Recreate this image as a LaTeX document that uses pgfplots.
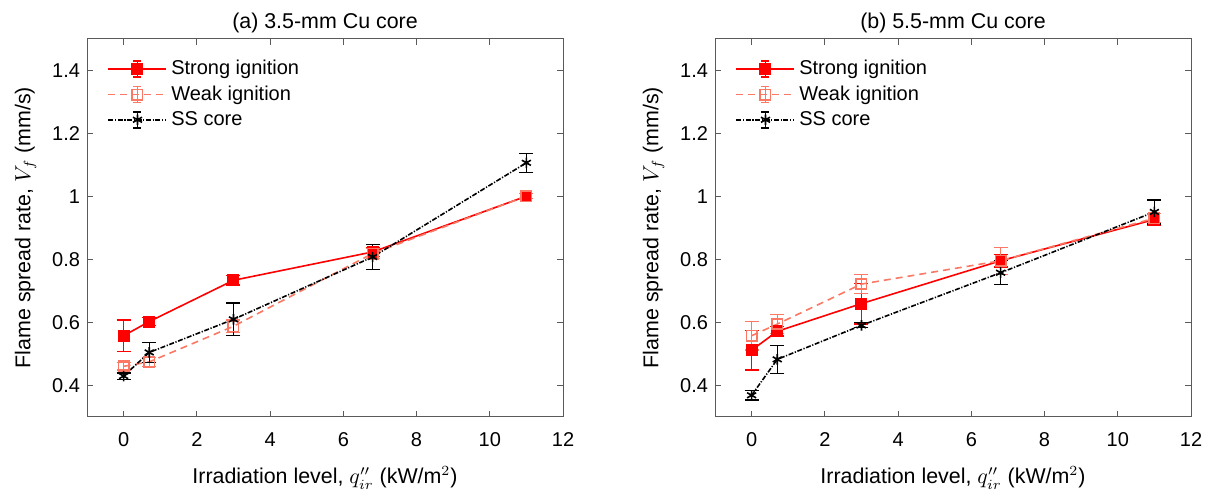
\documentclass[border=0pt]{standalone}
\usepackage{fontspec}
\setmainfont{Liberation Sans}
\usepackage{pgfplots}
\pgfplotsset{compat=1.18}
\definecolor{strongc}{RGB}{255,0,0}
\definecolor{weakc}{RGB}{250,120,100}
\definecolor{framec}{RGB}{90,90,90}
\pgfplotsset{
 myaxis/.style={
  scale only axis, width=238pt, height=189pt,
  xmin=-1, xmax=12, ymin=0.3, ymax=1.5,
  xtick={0,2,4,6,8,10,12}, ytick={0.4,0.6,0.8,1,1.2,1.4},
  yticklabels={0.4,0.6,0.8,1,1.2,1.4},
  tick align=inside,
  ticklabel style={font=\fontsize{10}{12}\selectfont},
  xticklabel style={yshift=-4.5pt},
  /pgf/number format/assume math mode=true,
  axis line style={framec, line width=0.5pt},
  tick style={framec, line width=0.5pt}, major tick length=3pt,
  title style={font=\fontsize{10.7}{12}\selectfont, yshift=-6.5pt},
  label style={font=\fontsize{10.7}{12}\selectfont},
  xlabel style={yshift=-3pt},
  ylabel style={yshift=1pt},
  xlabel={Irradiation level, $q''_{ir}$ (kW/m$^2$)},
  ylabel={Flame spread rate, $V_f$ (mm/s)},
  legend style={draw=none, fill=none, at={(0.03,0.965)}, anchor=north west,
    font=\fontsize{10}{12}\selectfont, row sep=0pt},
  legend cell align=left,
  legend image code/.code={
    \draw[#1,solid,mark=none] (14.5pt,-4pt) -- (14.5pt,4pt) (12.5pt,4pt)--(16.5pt,4pt) (12.5pt,-4pt)--(16.5pt,-4pt);
    \draw[mark repeat=2,mark phase=2,#1] plot coordinates {(0pt,0pt) (14.5pt,0pt) (29pt,0pt)};
  },
  error bars/y dir=both, error bars/y explicit,
  error bars/error bar style={solid, line width=0.6pt},
  error bars/error mark options={rotate=90, mark size=3.5pt, line width=0.6pt, solid},
 },
 strongs/.style={strongc, line width=0.8pt, solid, mark=square*, mark size=2.6pt, mark options={solid, fill=strongc}},
 weaks/.style={weakc, line width=0.8pt, dash pattern=on 3.5pt off 2.5pt, mark=square, mark size=2.6pt, mark options={solid}},
 sss/.style={black, line width=0.8pt, dash pattern=on 2.5pt off 0.8pt on 0.6pt off 0.8pt, mark=asterisk, mark size=2.6pt, mark options={solid}},
}
\begin{document}
\begin{tikzpicture}
\useasboundingbox (0,0) rectangle (604.5pt,245.5pt);
\begin{axis}[myaxis, at={(43.5pt,37.15pt)}, anchor=south west, title={(a) 3.5-mm Cu core}]
\addplot[strongs] table[x index=0, y index=1, y error index=2] {
0 0.557 0.05
0.7 0.602 0.012
3 0.733 0.015
6.8 0.823 0.015
11 1.0 0.008
};
\addlegendentry{Strong ignition}
\addplot[weaks] table[x index=0, y index=1, y error index=2] {
0 0.460 0.012
0.7 0.474 0.015
3 0.587 0.02
6.8 0.818 0.015
11 1.0 0.008
};
\addlegendentry{Weak ignition}
\addplot[sss] table[x index=0, y index=1, y error index=2] {
0 0.429 0.01
0.7 0.504 0.032
3 0.609 0.052
6.8 0.807 0.04
11 1.106 0.03
};
\addlegendentry{SS core}
\end{axis}
\begin{axis}[myaxis, at={(357.5pt,37.15pt)}, anchor=south west, title={(b) 5.5-mm Cu core}]
\addplot[strongs] table[x index=0, y index=1, y error index=2] {
0 0.511 0.063
0.7 0.571 0.015
3 0.659 0.065
6.8 0.795 0.02
11 0.926 0.02
};
\addlegendentry{Strong ignition}
\addplot[weaks] table[x index=0, y index=1, y error index=2] {
0 0.557 0.045
0.7 0.594 0.03
3 0.721 0.03
6.8 0.795 0.043
11 0.93 0.015
};
\addlegendentry{Weak ignition}
\addplot[sss] table[x index=0, y index=1, y error index=2] {
0 0.368 0.015
0.7 0.482 0.045
3 0.59 0.008
6.8 0.757 0.038
11 0.95 0.038
};
\addlegendentry{SS core}
\end{axis}
\end{tikzpicture}
\end{document}
